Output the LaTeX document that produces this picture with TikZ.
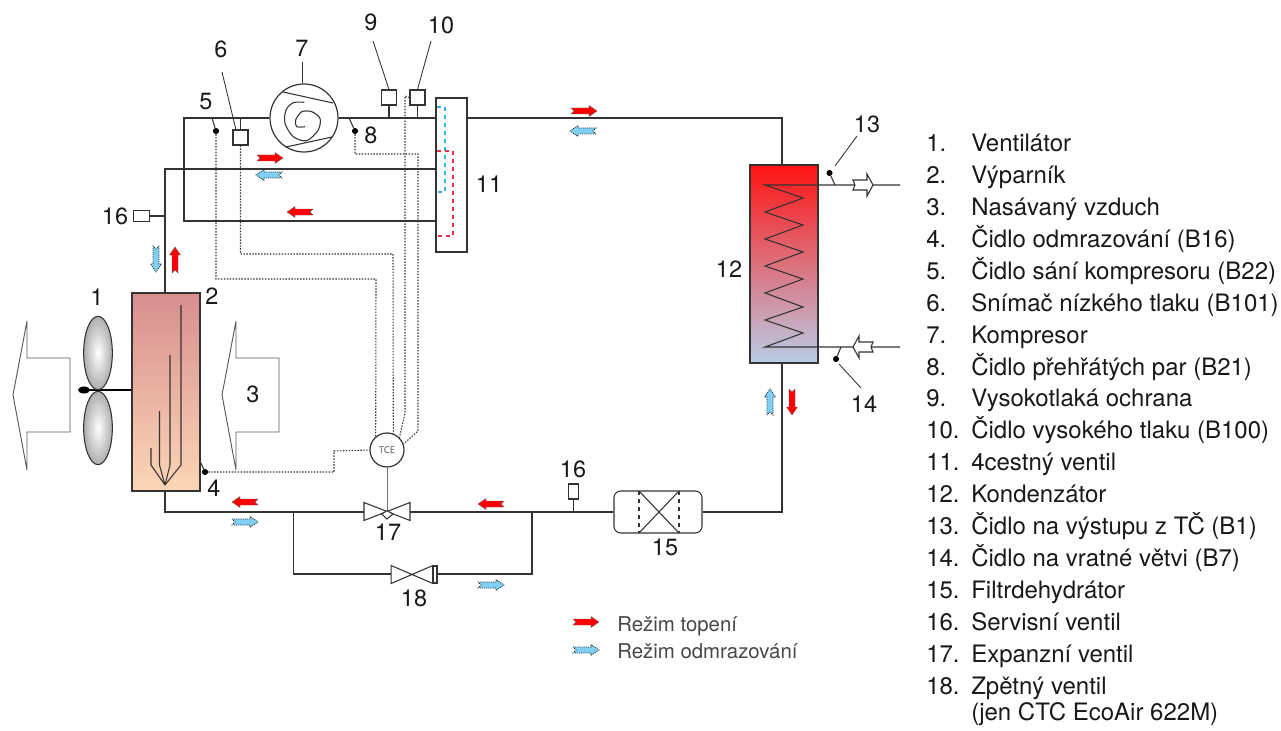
\documentclass[tikz,border=0pt]{standalone}
\usepackage{fontspec}
\setmainfont{TeX Gyre Heros}
\newfontfamily\tcefont{Open Sans}
\usepackage{tikz}
\usetikzlibrary{shapes.geometric,positioning,calc}
\usepackage{xcolor}
\definecolor{pipegray}{HTML}{333333}
\definecolor{evaptop}{HTML}{D78E8F}
\definecolor{evapbot}{HTML}{FCD6B6}
\definecolor{condtop}{HTML}{FF1414}
\definecolor{condmid}{HTML}{E38BA3}
\definecolor{condbot}{HTML}{B9CDE6}
\definecolor{defrost}{HTML}{80D0F5}
\definecolor{dashblue}{HTML}{30B4E8}
\definecolor{dashred}{HTML}{E83040}

\begin{document}
\begin{tikzpicture}[
        x=0.75pt, y=-0.75pt,
        pipe/.style={draw=pipegray, line width=1pt},
        fine/.style={draw=pipegray, line width=0.8pt},
        leader/.style={draw=pipegray, line width=0.65pt},
        signal/.style={draw=black!80, line width=0.8pt, dash pattern=on 1.1pt off 1.1pt},
        num/.style={font=\fontsize{17.6}{20}\selectfont, text=black!90, inner sep=0pt},
        listnum/.style={font=\fontsize{18}{20}\selectfont, text=black!90, inner sep=0pt, anchor=base west},
        listtext/.style={listnum},
        legendtext/.style={font=\fontsize{15.3}{18}\selectfont, text=black!72, inner sep=0pt, anchor=base west},
        sensorbox/.style={draw=pipegray, fill=white, line width=0.8pt, minimum size=11.25pt, inner sep=0pt},
        sdot/.style={circle, fill=black, minimum size=4.6pt, inner sep=0pt},
        blade/.style={ellipse, draw=pipegray, line width=0.8pt, minimum width=21.5pt, minimum height=55pt, inner sep=0pt, inner color=white, outer color=black!32},
        redflow/.style={draw=black!60, line width=0.3pt, fill=red},
        blueflow/.style={draw=black!85, line width=0.55pt, dash pattern=on 0.8pt off 0.8pt, fill=defrost},
        flow/.pic={\draw[pic actions] (-13,-3) -- (5,-3) -- (5,-5.5) -- (13,0) -- (5,5.5) -- (5,3) -- (-13,3) -- (-10,0) -- cycle;},
        opentip/.pic={\draw[fine, fill=white] (-10,-5) -- (4,-5) -- (4,-11) -- (10,0) -- (4,11) -- (4,5) -- (-10,5) -- (-8,0) -- cycle;},
        bowtie/.pic={\draw[fine, fill=white] (-23,-9) -- (23,9) -- (23,-9) -- (-23,9) -- cycle;}
    ]
        \useasboundingbox (0,0) rectangle (1281,731);

        % Main components
        \node[draw=pipegray, line width=0.9pt, top color=evaptop, bottom color=evapbot, minimum width=51pt, minimum height=148.5pt, inner sep=0pt] (evap) at (166,392) {};
        \node[draw=pipegray, line width=0.9pt, top color=condtop, middle color=condmid, bottom color=condbot, minimum width=51pt, minimum height=148.5pt, inner sep=0pt] (cond) at (784,264) {};
        \node[draw=pipegray, fill=white, line width=0.9pt, minimum width=23.25pt, minimum height=115.5pt, inner sep=0pt] (four) at (451.5,175) {};
        \node[circle, draw=pipegray, fill=white, line width=0.9pt, minimum size=51pt, inner sep=0pt] (comp) at (304,118) {};
        \node[circle, draw=pipegray, fill=white, line width=0.9pt, minimum size=25.5pt, inner sep=0pt, font=\tcefont\fontsize{7}{8}\selectfont, text=black!70] (tce) at (387,450) {TCE};
        \node[draw=pipegray, rounded corners=5pt, line width=0.8pt, minimum width=66pt, minimum height=31.5pt, inner sep=0pt] (filter) at (658,512) {};

        % Joints
        \coordinate (suction) at (165,169);
        \coordinate (looptop) at (184,118);
        \coordinate (loopbot) at (184,221);
        \coordinate (riser) at (782,118);
        \coordinate (v17l) at (364,512);
        \coordinate (v17c) at (387,512);
        \coordinate (v17r) at (410,512);
        \coordinate (v18l) at (391,574);
        \coordinate (v18r) at (437,574);
        \coordinate (brl) at (293.5,512);
        \coordinate (brr) at (532,512);
        \coordinate (bypl) at (293.5,574);
        \coordinate (bypr) at (532,574);
        \coordinate (fork) at (165,485);

        % Pipes
        \draw[pipe] (suction |- evap.north) -- (suction) -- (suction -| four.west);
        \draw[pipe] (comp.west) -- (looptop) -- (loopbot) -- (loopbot -| four.west);
        \draw[pipe] (comp.east) -- (comp.east -| four.west);
        \draw[pipe] (comp -| four.east) -- (riser) -- (riser |- cond.north);
        \draw[pipe] (riser |- cond.south) -- (riser |- filter) -- (filter.east);
        \draw[pipe] (filter.west) -- (v17r);
        \draw[pipe] (suction |- evap.south) -- (suction |- v17l) -- (v17l);
        \draw[pipe] (brl) -- (bypl) -- (v18l);
        \draw[pipe] (v18r) -- (bypr) -- (brr);

        % Evaporator fins
        \draw[fine] (181,305) -- (181,465) -- (fork);
        \draw[fine] (170,355) -- (170,465) -- (fork);
        \draw[fine] (159.5,411) -- (159.5,465) -- (fork);
        \draw[fine] (151,448) -- (151,465) -- (fork);

        % Fan and air arrows
        \coordinate (shaft) at (84,390);
        \draw[line width=1pt] (shaft) -- (shaft -| evap.west);
        \node[blade] (blade1) at (98,353) {};
        \node[blade] (blade2) at (98,428) {};
        \node[ellipse, fill=black, minimum width=9pt, minimum height=5.2pt, inner sep=0pt] (hub) at (shaft) {};
        \draw[draw=black!65, line width=0.7pt] (70,358) -- (27,358) -- (27,321) -- (13,395) -- (27,470) -- (27,432) -- (70,432) -- cycle;
        \draw[draw=black!65, line width=0.7pt] (279,358) -- (236,358) -- (236,321) -- (222,395) -- (236,470) -- (236,432) -- (279,432) -- cycle;

        % Compressor inside
        \draw[fine] (283,92) -- (333,103);
        \draw[fine] (286,147) -- (332,137);
        \draw[fine] plot[smooth] coordinates {(304.3,102.3) (293.3,102.7) (286,110) (285,123.3) (293.3,136.7) (306.7,140.7) (318.3,130) (320,118.3) (311.7,111.7) (301.7,111.7) (295.7,120) (296.7,126.7) (305,126.7)};

        % Sensors on the top line
        \node[sensorbox] (s6) at (240.5,137.5) {};
        \node[sensorbox] (s9) at (389,97.5) {};
        \node[sensorbox] (s10) at (417.5,97.5) {};
        \node[sdot] (s5) at (216,131) {};
        \node[sdot] (s8) at (355,131) {};
        \node[sdot] (s4) at (205,472) {};
        \coordinate (j5) at (212,118);
        \coordinate (j8) at (349,118);
        \coordinate (j4) at (200,461);
        \draw[fine] (s6.north) -- (s6.north |- looptop);
        \draw[fine] (s9.south) -- (s9.south |- looptop);
        \draw[fine] (s10.south) -- (s10.south |- looptop);
        \draw[fine] (j5) -- (s5);
        \draw[fine] (j8) -- (s8);
        \draw[fine] (j4) -- (s4);

        % Service valve on the suction line
        \node[sensorbox, minimum width=12.5pt, minimum height=8pt] (sv1) at (141.5,216) {};
        \draw[fine] (sv1.east) -- (sv1.east -| suction);

        % Four way valve inside
        \coordinate (cy1) at (437,107);
        \coordinate (cy2) at (445,192);
        \coordinate (rd1) at (437,151);
        \coordinate (rd2) at (453,236);
        \draw[dashblue, line width=0.8pt, dashed] (cy1) -| (cy2) -- (cy2 -| cy1);
        \draw[dashred, line width=0.8pt, dashed] (rd1) -| (rd2) -- (rd2 -| rd1);

        % Control lines to the TCE
        \coordinate (c5) at (376,279);
        \coordinate (c6) at (393,254);
        \coordinate (c8) at (418,154);
        \coordinate (c8b) at (418,431);
        \coordinate (c10) at (405,96);
        \coordinate (c10b) at (405,413);
        \coordinate (c4) at (334,451);
        \draw[signal] (s5) |- (c5) -- (tce.130);
        \draw[signal] (s6.south) |- (c6) -- (tce.69);
        \draw[signal] (s8) |- (c8) -- (c8b) -- (tce.20);
        \draw[signal] (s10.west) -- (c10) -- (c10b) -- (tce.45);
        \draw[signal] (s4) -| (c4) -- (tce.west);
        \draw[draw=black!55, line width=0.5pt] (tce.south) -- (v17c);

        % Valves
        \pic at (387,511.5) {bowtie};
        \draw[fine, fill=white] (381.7,514) -- (387,510.7) -- (393,514) -- (387,519) -- cycle;
        \pic[xscale=0.91] at (412,574.5) {bowtie};
        \node[draw=pipegray, fill=white, line width=0.8pt, minimum width=3pt, minimum height=12.75pt, inner sep=0pt] (plate) at (435,574.5) {};

        % Service valve and filter
        \node[sensorbox, minimum width=7pt, minimum height=11.25pt] (sv2) at (573.5,491.5) {};
        \draw[fine] (sv2.south) -- (sv2.south |- filter);
        \coordinate (f1) at (639,491);
        \coordinate (f2) at (679,533);
        \draw[fine] (f1) -- (f2);
        \draw[fine] (f1 |- f2) -- (f2 |- f1);
        \draw[fine, dashed] (f1) -- (f1 |- f2);
        \draw[fine, dashed] (f2 |- f1) -- (f2);

        % Condenser coil
        \coordinate (coilin) at (765,185);
        \coordinate (coilout) at (765,347);
        \coordinate (wout) at (900,185);
        \coordinate (wret) at (900,347);
        \draw[fine] (wout) -- (coilin) -- (803,198) -- (765,212) -- (803,225) -- (765,239) -- (803,252) -- (765,266) -- (803,279) -- (765,293) -- (803,307) -- (765,320) -- (803,333) -- (coilout) -- (wret);
        \pic at (863,185) {opentip};
        \pic[rotate=180] at (863,347) {opentip};

        % Condenser sensors
        \node[sdot] (s13) at (829.5,173) {};
        \node[sdot] (s14) at (836,359) {};
        \coordinate (j13) at (835,185);
        \coordinate (j14) at (841,347);
        \draw[fine] (j13) -- (s13);
        \draw[fine] (j14) -- (s14);

        % Flow arrows
        \pic[redflow] at (584,111) {flow};
        \pic[blueflow, rotate=180] at (583,131) {flow};
        \pic[redflow] at (270,158) {flow};
        \pic[blueflow, rotate=180] at (269,175) {flow};
        \pic[redflow, rotate=180] at (300,212) {flow};
        \pic[blueflow, rotate=-90] at (156,259) {flow};
        \pic[redflow, rotate=90] at (175,260) {flow};
        \pic[redflow, rotate=180] at (245,502) {flow};
        \pic[blueflow] at (245,522) {flow};
        \pic[redflow, rotate=180] at (491,504) {flow};
        \pic[blueflow] at (491,585) {flow};
        \pic[blueflow, rotate=90] at (770,402) {flow};
        \pic[redflow, rotate=-90] at (792,402) {flow};

        % Number labels
        \node[num] (l1) at (97,297) {1};
        \node[num] (l2) at (212,296) {2};
        \node[num] (l3) at (253,394) {3};
        \node[num] (l4) at (214,488) {4};
        \node[num] (l5) at (206,102) {5};
        \node[num] (l6) at (221,49) {6};
        \node[num] (l7) at (302,48) {7};
        \node[num] (l8) at (371,135) {8};
        \node[num] (l9) at (371,22) {9};
        \node[num] (l10) at (441,25) {10};
        \node[num] (l11) at (489,184) {11};
        \node[num] (l12) at (729,269) {12};
        \node[num] (l13) at (867,124) {13};
        \node[num] (l14) at (864,404) {14};
        \node[num] (l15) at (665,547) {15};
        \node[num] (l16a) at (115,216) {16};
        \node[num] (l16b) at (573,469) {16};
        \node[num] (l17) at (388,532) {17};
        \node[num] (l18) at (414,598) {18};

        % Leader lines
        \coordinate (t6) at (222,72);
        \coordinate (t7) at (302,62);
        \coordinate (t9) at (373,41);
        \coordinate (t10) at (431,41);
        \coordinate (t13) at (857,136);
        \coordinate (e13) at (835,166);
        \coordinate (t14) at (861,388);
        \coordinate (e14) at (839,364);
        \draw[leader] (t6) -- (s6.120);
        \draw[leader] (t7) -- (t7 |- comp.north);
        \draw[leader] (t9) -- (s9.north);
        \draw[leader] (t10) -- (s10.north);
        \draw[leader] (t13) -- (e13);
        \draw[leader] (t14) -- (e14);

        % Legend
        \pic[redflow] at (586,622) {flow};
        \pic[blueflow] at (586,650) {flow};
        \node[legendtext] (leg1) at (617,631.5) {Režim topení};
        \node[legendtext] (leg2) at (617,658.5) {Režim odmrazování};

        % Parts list
        \node[listnum] (n1) at (926,151.7) {1.};    \node[listtext] (i1) at (971,151.7) {Ventilátor};
        \node[listnum] (n2) at (926,183.6) {2.};    \node[listtext] (i2) at (971,183.6) {Výparník};
        \node[listnum] (n3) at (926,215.5) {3.};    \node[listtext] (i3) at (971,215.5) {Nasávaný vzduch};
        \node[listnum] (n4) at (926,247.4) {4.};    \node[listtext] (i4) at (971,247.4) {Čidlo odmrazování (B16)};
        \node[listnum] (n5) at (926,279.3) {5.};    \node[listtext] (i5) at (971,279.3) {Čidlo sání kompresoru (B22)};
        \node[listnum] (n6) at (926,311.2) {6.};    \node[listtext] (i6) at (971,311.2) {Snímač nízkého tlaku (B101)};
        \node[listnum] (n7) at (926,343.1) {7.};    \node[listtext] (i7) at (971,343.1) {Kompresor};
        \node[listnum] (n8) at (926,375) {8.};      \node[listtext] (i8) at (971,375) {Čidlo přehřátých par (B21)};
        \node[listnum] (n9) at (926,406.9) {9.};    \node[listtext] (i9) at (971,406.9) {Vysokotlaká ochrana};
        \node[listnum] (n10) at (926,438.8) {10.};  \node[listtext] (i10) at (971,438.8) {Čidlo vysokého tlaku (B100)};
        \node[listnum] (n11) at (926,470.7) {11.};  \node[listtext] (i11) at (971,470.7) {4cestný ventil};
        \node[listnum] (n12) at (926,502.6) {12.};  \node[listtext] (i12) at (971,502.6) {Kondenzátor};
        \node[listnum] (n13) at (926,534.5) {13.};  \node[listtext] (i13) at (971,534.5) {Čidlo na výstupu z TČ (B1)};
        \node[listnum] (n14) at (926,566.4) {14.};  \node[listtext] (i14) at (971,566.4) {Čidlo na vratné větvi (B7)};
        \node[listnum] (n15) at (926,598.3) {15.};  \node[listtext] (i15) at (971,598.3) {Filtrdehydrátor};
        \node[listnum] (n16) at (926,630.2) {16.};  \node[listtext] (i16) at (971,630.2) {Servisní ventil};
        \node[listnum] (n17) at (926,662.1) {17.};  \node[listtext] (i17) at (971,662.1) {Expanzní ventil};
        \node[listnum] (n18) at (926,694) {18.};    \node[listtext] (i18) at (971,694) {Zpětný ventil};
        \node[listtext] (i18b) at (971,720) {(jen CTC EcoAir 622M)};
    \end{tikzpicture}
\end{document}
